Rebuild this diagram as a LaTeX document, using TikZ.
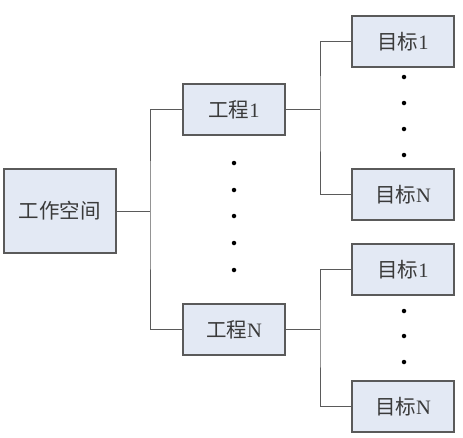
\documentclass[tikz,border=0pt]{standalone}
\usepackage{fontspec}
\setmainfont{Liberation Serif}
\newfontfamily\cjk{Noto Sans CJK SC}
\definecolor{boxfill}{HTML}{E3E9F4}
\definecolor{boxline}{HTML}{5A5A5A}
\definecolor{txt}{HTML}{3A3A3A}
\tikzset{
  box/.style={draw=boxline, line width=1.2pt, fill=boxfill, minimum width=102pt, minimum height=51pt, inner sep=0pt, text=txt, font=\fontsize{20.5pt}{24pt}\selectfont},
  conn/.style={draw=boxline, line width=1pt},
  dotmark/.style={circle, fill=black, inner sep=0pt, minimum size=4.5pt}
}
\begin{document}
\begin{tikzpicture}[x=1pt,y=-1pt]
\useasboundingbox (0,0) rectangle (463,437);
\node[box, minimum width=112pt, minimum height=84pt] (ws) at (60,211) {\cjk 工作空间};
\node[box] (p1) at (234,109.5) {{\cjk 工程}1};
\node[box] (pN) at (234,329.5) {{\cjk 工程}N};
\node[box] (t11) at (403,41.5) {{\cjk 目标}1};
\node[box] (t1N) at (403,194.5) {{\cjk 目标}N};
\node[box] (tN1) at (403,269.5) {{\cjk 目标}1};
\node[box] (tNN) at (403,406.5) {{\cjk 目标}N};
\coordinate (j1) at (150,211);
\coordinate (j2) at (320,109.5);
\coordinate (j3) at (320,329.5);
\draw[conn] (ws.east) -- (j1);
\draw[conn] (p1.west) -| (j1) |- (pN.west);
\draw[conn] (p1.east) -- (j2);
\draw[conn] (t11.west) -| (j2) |- (t1N.west);
\draw[conn] (pN.east) -- (j3);
\draw[conn] (tN1.west) -| (j3) |- (tNN.west);
\foreach \y [count=\i] in {163,190,216,243,270} \node[dotmark] (m\i) at (234,\y) {};
\foreach \y [count=\i] in {77,103,129,155} \node[dotmark] (a\i) at (404,\y) {};
\foreach \y [count=\i] in {311,336,362} \node[dotmark] (b\i) at (404,\y) {};
\end{tikzpicture}
\end{document}
